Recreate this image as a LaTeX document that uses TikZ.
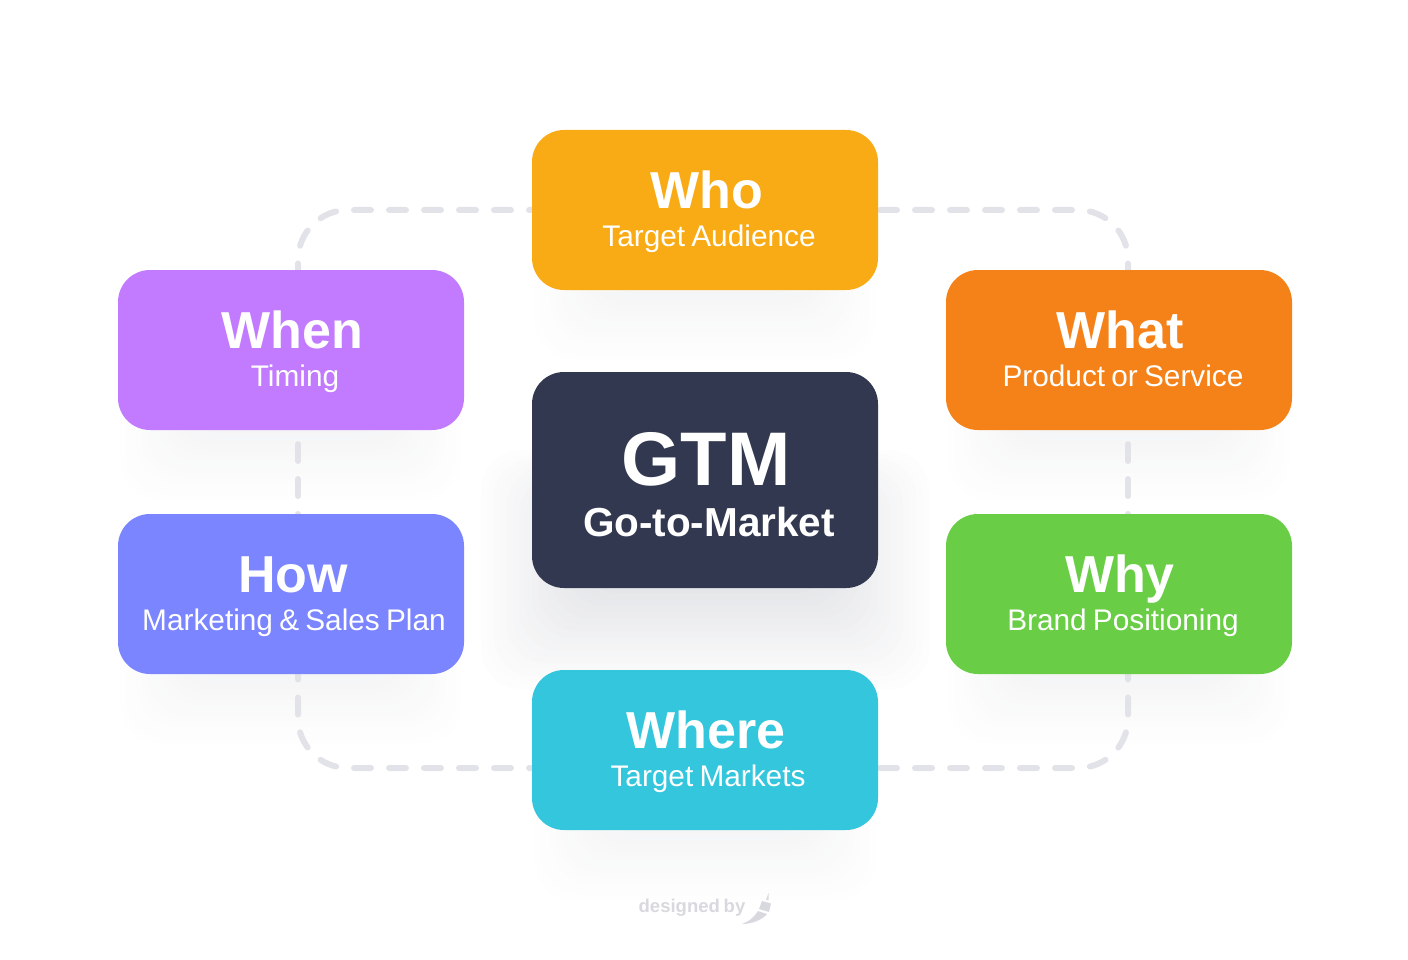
\documentclass[tikz,border=0pt]{standalone}
\usepackage{fontspec}
\setmainfont[WordSpace=0.75]{Liberation Sans}
\usetikzlibrary{backgrounds, calc}

\definecolor{whofill}{HTML}{F9AB15}
\definecolor{whatfill}{HTML}{F58218}
\definecolor{whenfill}{HTML}{C27BFF}
\definecolor{howfill}{HTML}{7A85FF}
\definecolor{whyfill}{HTML}{69CE45}
\definecolor{wherefill}{HTML}{34C6DC}
\definecolor{gtmfill}{HTML}{32384F}
\definecolor{linkgray}{HTML}{E2E3E8}
\definecolor{creditgray}{HTML}{D8D9DE}

\tikzset{
  cardbox/.style={rounded corners=32, minimum width=346, minimum height=160, inner sep=0pt, outer sep=0pt},
  titletext/.style={anchor=base, text=white, inner sep=0pt, font=\fontsize{52}{52}\selectfont\bfseries},
  subtext/.style={anchor=base, text=white, inner sep=0pt, font=\fontsize{29.8}{30}\selectfont},
  linkline/.style={linkgray, line width=6, line cap=round, rounded corners=50, dash pattern=on 17 off 18},
  softshade/.style={gtmfill, opacity=0.005, rounded corners=40}
}

\begin{document}
\begin{tikzpicture}[x=1pt, y=-1pt]
  \useasboundingbox (0,0) rectangle (1408,960);

  % Outer cards
  \node[cardbox, fill=whofill] (who) at (705,210) {};
  \node[titletext] (whotitle) at (707,208.5) {Who};
  \node[subtext] (whosub) at (709,246) {Target Audience};

  \node[cardbox, fill=whatfill] (what) at (1119,350) {};
  \node[titletext] (whattitle) at (1120,348) {What};
  \node[subtext] (whatsub) at (1123,386) {Product or Service};

  \node[cardbox, fill=whyfill] (why) at (1119,594) {};
  \node[titletext] (whytitle) at (1120,592) {Why};
  \node[subtext] (whysub) at (1123,630) {Brand Positioning};

  \node[cardbox, fill=wherefill] (where) at (705,750) {};
  \node[titletext] (wheretitle) at (706,748) {Where};
  \node[subtext] (wheresub) at (708,786) {Target Markets};

  \node[cardbox, fill=howfill] (how) at (291,594) {};
  \node[titletext] (howtitle) at (293,592) {How};
  \node[subtext] (howsub) at (294,630) {Marketing \& Sales Plan};

  \node[cardbox, fill=whenfill] (when) at (291,350) {};
  \node[titletext] (whentitle) at (292,348) {When};
  \node[subtext] (whensub) at (295,386) {Timing};

  % Centre card
  \node[cardbox, fill=gtmfill, minimum height=216] (gtm) at (705,480) {};
  \node[titletext, font=\fontsize{76}{76}\selectfont\bfseries] (gtmtitle) at (706,485) {GTM};
  \node[subtext, font=\fontsize{40.5}{41}\selectfont\bfseries] (gtmsub) at (709,536) {Go-to-Market};

  % Soft shadows and dashed links behind the cards
  \begin{pgfonlayer}{background}
    \foreach \card in {who,what,why,where,how,when}{
      \foreach \i in {0,...,12}{
        \fill[softshade] ($(\card.north west)+({66-5.3*\i},60)$) rectangle ($(\card.south east)+({-66+5.3*\i},{4+5.5*\i})$);
      }
    }
    \foreach \i in {0,...,18}{
      \fill[softshade, opacity=0.007] ($(gtm.north west)+({64-6.4*\i},{150-4*\i})$) rectangle ($(gtm.south east)+({-64+6.4*\i},{-14+6.4*\i})$);
    }
    \draw[linkline, dash phase=14] (who.west) -| ([xshift=7]when.north);
    \draw[linkline, dash phase=33] (who.east) -| ([xshift=9]what.north);
    \draw[linkline, dash phase=14] ([yshift=-18]where.west) -| ([xshift=7]how.south);
    \draw[linkline, dash phase=33] ([yshift=-18]where.east) -| ([xshift=9]why.south);
    \draw[linkline, dash phase=21] ([xshift=7]when.south) -- ([xshift=7]how.north);
    \draw[linkline, dash phase=21] ([xshift=9]what.south) -- ([xshift=9]why.north);
  \end{pgfonlayer}

  % Credit
  \node[anchor=base, inner sep=0pt, text=creditgray, font=\fontsize{18.5}{19}\selectfont\bfseries] (credit) at (692,912) {designed by};
  \fill[creditgray] (768.5,893) -- (768.5,900) -- (766,900) -- cycle;
  \fill[creditgray] (762,901) -- (771,903.5) -- (769,912) -- (759,909) -- cycle;
  \fill[creditgray] (758,911) -- (767,914) .. controls (762,920) and (752,924) .. (742,924) .. controls (750,921) and (755,916) .. (758,911) -- cycle;
\end{tikzpicture}
\end{document}
